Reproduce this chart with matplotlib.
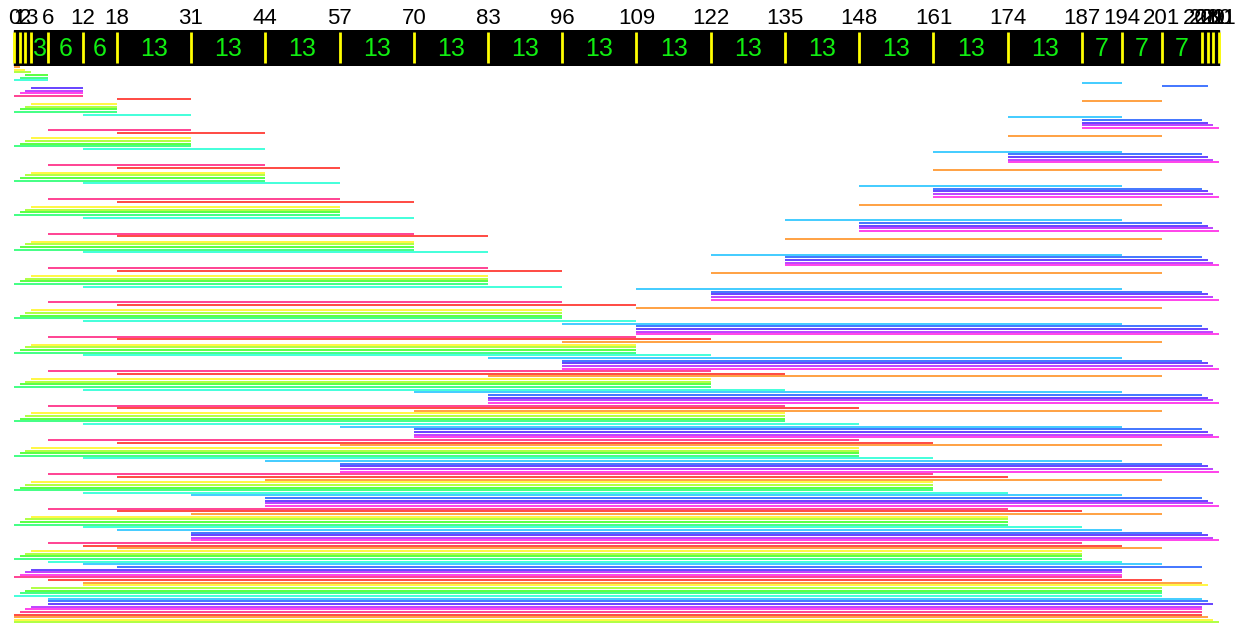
import colorsys
import matplotlib
matplotlib.use('Agg')
import matplotlib.pyplot as plt

#===============================================================================
# chunk boundaries shown in the header
bounds = [0, 1, 2, 3, 6, 12, 18, 31, 44, 57, 70, 83, 96, 109, 122, 135,
          148, 161, 174, 187, 194, 201, 208, 209, 210, 211]

# one interval per row, top to bottom
row_start = [
    0, 0, 0, 2, 1, 0, 187, 201, 3, 2, 1, 0,
    18, 187, 3, 2, 1, 0, 12, 174, 187, 187, 187, 187,
    6, 18, 174, 3, 2, 1, 0, 12, 161, 174, 174, 174, 174,
    6, 18, 161, 3, 2, 1, 0, 12, 148, 161, 161, 161, 161,
    6, 18, 148, 3, 2, 1, 0, 12, 135, 148, 148, 148, 148,
    6, 18, 135, 3, 2, 1, 0, 12, 122, 135, 135, 135, 135,
    6, 18, 122, 3, 2, 1, 0, 12, 109, 122, 122, 122, 122,
    6, 18, 109, 3, 2, 1, 0, 12, 96, 109, 109, 109, 109,
    6, 18, 96, 3, 2, 1, 0, 12, 83, 96, 96, 96, 96,
    6, 18, 83, 3, 2, 1, 0, 12, 70, 83, 83, 83, 83,
    6, 18, 70, 3, 2, 1, 0, 12, 57, 70, 70, 70, 70,
    6, 18, 57, 3, 2, 1, 0, 12, 44, 57, 57, 57, 57,
    6, 18, 44, 3, 2, 1, 0, 12, 31, 44, 44, 44, 44,
    6, 18, 31, 3, 2, 1, 0, 12, 18, 31, 31, 31, 31,
    6, 12, 18, 3, 2, 1, 0, 6, 12, 18, 3, 2, 1, 0,
    6, 12, 12, 3, 2, 1, 0, 6, 6, 6, 3, 2, 1, 0, 0, 0, 0,
]
row_end = [
    1, 2, 3, 6, 6, 6, 194, 209, 12, 12, 12, 12,
    31, 201, 18, 18, 18, 18, 31, 194, 208, 209, 210, 211,
    31, 44, 201, 31, 31, 31, 31, 44, 194, 208, 209, 210, 211,
    44, 57, 201, 44, 44, 44, 44, 57, 194, 208, 209, 210, 211,
    57, 70, 201, 57, 57, 57, 57, 70, 194, 208, 209, 210, 211,
    70, 83, 201, 70, 70, 70, 70, 83, 194, 208, 209, 210, 211,
    83, 96, 201, 83, 83, 83, 83, 96, 194, 208, 209, 210, 211,
    96, 109, 201, 96, 96, 96, 96, 109, 194, 208, 209, 210, 211,
    109, 122, 201, 109, 109, 109, 109, 122, 194, 208, 209, 210, 211,
    122, 135, 201, 122, 122, 122, 122, 135, 194, 208, 209, 210, 211,
    135, 148, 201, 135, 135, 135, 135, 148, 194, 208, 209, 210, 211,
    148, 161, 201, 148, 148, 148, 148, 161, 194, 208, 209, 210, 211,
    161, 174, 201, 161, 161, 161, 161, 174, 194, 208, 209, 210, 211,
    174, 187, 201, 174, 174, 174, 174, 187, 194, 208, 209, 210, 211,
    187, 194, 201, 187, 187, 187, 187, 194, 201, 208, 194, 194, 194, 194,
    201, 208, 209, 201, 201, 201, 201, 208, 209, 210, 208, 208, 208, 208, 209, 210, 211,
]
#===============================================================================
plt.rcParams['font.family'] = ['Liberation Sans', 'DejaVu Sans']

W, H = 1240, 630
px = 5.711          # pixels per unit on x
x0 = 14             # pixel of unit 0
xlim = (-x0 / px, (W - x0) / px)

fig = plt.figure(figsize=(W / 100, H / 100), dpi=100)

# rows
ax = fig.add_axes([0, 0, 1, (H - 64) / H])
rows = list(range(len(row_start)))
cols = [colorsys.hsv_to_rgb((30 / 360 + i / 13.0) % 1.0, 0.9, 1.0) for i in rows]
ax.hlines(rows, row_start, row_end, colors=cols, lw=1.15)
ax.set_xlim(*xlim)
ax.set_ylim((H - 67) / 2.645, -3 / 2.645)
ax.axis('off')

# header band
hdr = fig.add_axes([0, (H - 65.5) / H, 1, 35.5 / H])
hdr.set_xlim(*xlim)
hdr.set_ylim(0, 1)
hdr.axis('off')
hdr.barh(0.5, bounds[-1] - bounds[0], left=bounds[0], height=1,
         color='black', edgecolor='black', lw=1)
hdr.vlines(bounds, 0.08, 0.93, colors='#ffff00', lw=2)
for a, b in zip(bounds[:-1], bounds[1:]):
    if b - a > 1:
        hdr.text((a + b) / 2, 0.47, str(b - a), color='#11ee11',
                 ha='center', va='center', fontsize=18)
for b in bounds:
    hdr.text(b, 1.33, str(b), color='black', ha='center', va='center',
             fontsize=16, clip_on=False)

plt.savefig('out.png', dpi=100)
